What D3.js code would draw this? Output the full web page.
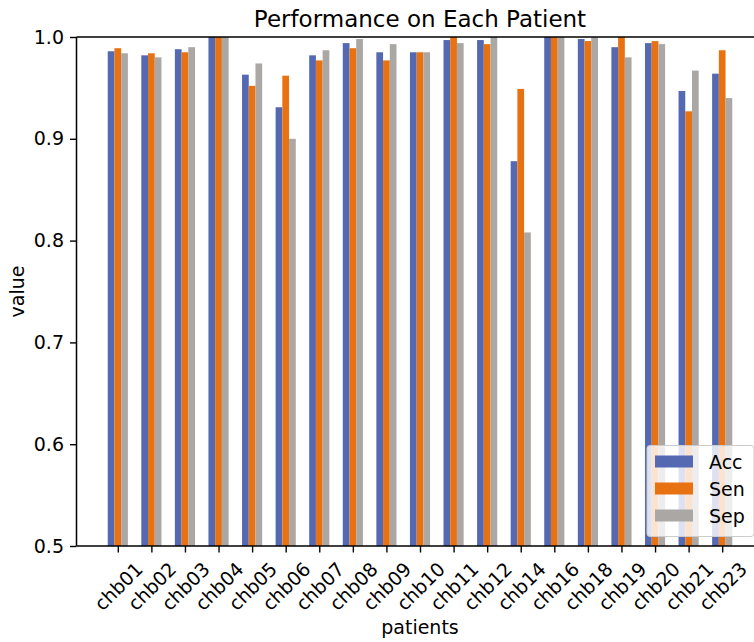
<!DOCTYPE html>
<html><head><meta charset="utf-8">
<script src="https://cdn.jsdelivr.net/npm/d3@7"></script>
<style>
body{margin:0;background:#fff}
text{font-family:"DejaVu Sans",sans-serif;fill:#000}
</style>
</head><body>
<svg id="chart" width="754" height="642"></svg>
<script>
const categories = ["chb01","chb02","chb03","chb04","chb05","chb06","chb07","chb08","chb09","chb10","chb11","chb12","chb14","chb16","chb18","chb19","chb20","chb21","chb23"];
const seriesNames = ["Acc","Sen","Sep"];
const acc = [0.986,0.982,0.988,1.0,0.963,0.931,0.982,0.994,0.985,0.985,0.997,0.997,0.878,1.0,0.998,0.990,0.994,0.947,0.964];
const sen = [0.989,0.984,0.985,1.0,0.952,0.962,0.977,0.989,0.977,0.985,1.0,0.993,0.949,1.0,0.996,1.0,0.996,0.927,0.987];
const sep = [0.984,0.980,0.990,1.0,0.974,0.900,0.987,0.998,0.993,0.985,0.994,1.0,0.808,1.0,1.0,0.980,0.993,0.967,0.940];
const yTicks = [0.5,0.6,0.7,0.8,0.9,1.0];
const colors = ["#5569b3","#e87212","#aba7a4"];
const title = "Performance on Each Patient";
const xLabel = "patients";
const yLabel = "value";

const seriesData = [acc, sen, sep];
const svg = d3.select("#chart");
const L = 76.5, R = 763.5, T = 37, B = 546;
const barW = 0.2;
const n = categories.length;
const lo = -1.5*barW, hi = (n-1) + 1.5*barW;
const pad = (hi - lo) * 0.05;
const x = d3.scaleLinear().domain([lo - pad, hi + pad]).range([L, R]);
const y = d3.scaleLinear().domain([0.5, 1.0]).range([B, T]);
const fs = 19;

svg.append("defs").append("clipPath").attr("id","clip")
  .append("rect").attr("x",L).attr("y",T).attr("width",R-L).attr("height",B-T);

const gBars = svg.append("g").attr("clip-path","url(#clip)");
seriesData.forEach((vals, s) => {
  gBars.selectAll(null).data(vals).enter().append("rect")
    .attr("x", (d,i) => x(i + (s-1)*barW - barW/2))
    .attr("width", (d,i) => x(i + (s-1)*barW + barW/2) - x(i + (s-1)*barW - barW/2))
    .attr("y", d => y(d))
    .attr("height", d => B - y(d))
    .attr("fill", colors[s]);
});

// y axis
const yAxis = d3.axisLeft(y).tickValues(yTicks).tickFormat(d3.format(".1f")).tickSize(6.5).tickPadding(6);
const gy = svg.append("g").attr("transform",`translate(${L},0)`).call(yAxis);
gy.select(".domain").remove();
gy.selectAll("line").attr("stroke","#000").attr("stroke-width",1.4);
gy.selectAll("text").style("font-size",fs+"px").style("font-family","DejaVu Sans");

// x axis
const xAxis = d3.axisBottom(x).tickValues(d3.range(n)).tickFormat(i => categories[i]).tickSize(6.5);
const gx = svg.append("g").attr("transform",`translate(0,${B})`).call(xAxis);
gx.select(".domain").remove();
gx.selectAll("line").attr("stroke","#000").attr("stroke-width",1.4);
gx.selectAll("text").each(function(){
  const t = d3.select(this);
  t.style("font-size",fs+"px").style("font-family","DejaVu Sans")
   .attr("text-anchor","middle").attr("dy",null).attr("dominant-baseline","central");
  const w = this.getComputedTextLength();
  const h = fs*0.95;
  const bh = (w + h) * Math.SQRT1_2;
  t.attr("y", null).attr("transform", `translate(0,${13 + bh/2}) rotate(-45)`);
});

// spines
const sp = svg.append("g").attr("stroke","#000").attr("stroke-width",1.5);
sp.append("line").attr("x1",L).attr("x2",L).attr("y1",T).attr("y2",B);
sp.append("line").attr("x1",L).attr("x2",R).attr("y1",T).attr("y2",T);
sp.append("line").attr("x1",L).attr("x2",R).attr("y1",B).attr("y2",B);
sp.append("line").attr("x1",R).attr("x2",R).attr("y1",T).attr("y2",B);

// title & labels
svg.append("text").attr("x",(L+R)/2).attr("y",T-10).attr("text-anchor","middle")
  .style("font-size","23px").text(title);
svg.append("text").attr("x",(L+R)/2).attr("y",634).attr("text-anchor","middle")
  .style("font-size",fs+"px").text(xLabel);
svg.append("text").attr("transform",`translate(24,${(T+B)/2}) rotate(-90)`).attr("text-anchor","middle")
  .style("font-size",fs+"px").text(yLabel);

// legend
const lgW = 107, lgH = 91;
const lgX = R - 9.5 - lgW, lgY = B - 9.5 - lgH;
const lg = svg.append("g");
lg.append("rect").attr("x",lgX).attr("y",lgY).attr("width",lgW).attr("height",lgH)
  .attr("rx",3).attr("fill","#fff").attr("fill-opacity",0.8).attr("stroke","#cccccc").attr("stroke-width",1);
seriesNames.forEach((name, s) => {
  const cy = lgY + 16 + s*27;
  lg.append("rect").attr("x",lgX+8).attr("y",cy-6).attr("width",38).attr("height",12).attr("fill",colors[s]);
  lg.append("text").attr("x",lgX+62).attr("y",cy).attr("dominant-baseline","central")
    .style("font-size",fs+"px").text(name);
});
</script>
</body></html>
